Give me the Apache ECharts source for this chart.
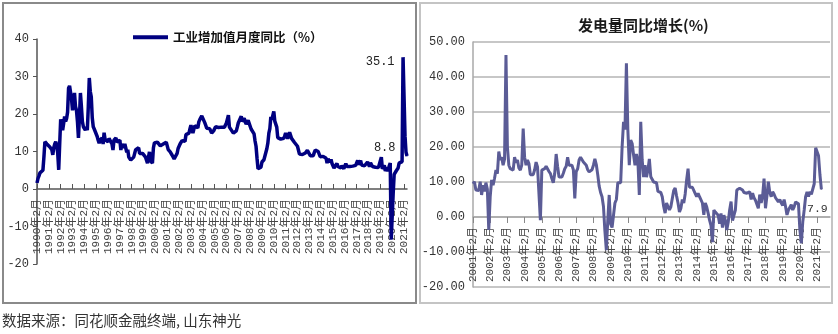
<!DOCTYPE html>
<html><head><meta charset="utf-8">
<script src="https://cdn.jsdelivr.net/npm/echarts@6/dist/echarts.min.js"></script>
<style>html,body{margin:0;padding:0;background:#fff}#c{width:838px;height:334px}</style>
</head><body><div id="c"></div>
<script>
// ---- Left: 工业增加值月度同比 (%), monthly 1990-02 .. 2021-05 ----
const ivaName = '工业增加值月度同比（%）';
const iva1990 = [1.6,2.8,3.5,4.3,3.8,4.6,5.0,8.5,12.6,12.8,12.0];
const iva1991_1995 = [
 11.5,11.8,11.2,11.0,10.5,9.1,11.0,12.0,12.6,11.8,9.5,5.1,
 12.0,18.6,17.0,15.7,17.5,19.3,18.0,18.8,20.5,26.9,27.5,27.7,
 24.0,21.0,23.5,25.6,22.0,21.0,18.0,13.6,19.0,25.6,22.0,18.0,
 16.6,17.0,15.7,16.5,15.7,22.0,29.6,26.0,24.6,19.0,16.6,16.0,
 15.5,15.7,14.0,13.0,12.2,13.0,12.8,13.6,12.0,15.0,13.2,13.5];
const iva1996_2000 = [
 13.0,12.6,13.5,13.0,13.6,12.0,10.4,13.0,13.5,13.6,12.5,13.0,
 12.5,13.0,10.4,12.0,11.5,11.0,12.0,11.5,9.8,10.5,8.5,8.0,
 7.7,8.0,7.7,8.5,9.5,10.5,11.0,10.5,11.0,9.5,10.0,9.8,
 9.5,9.0,9.2,8.5,9.0,6.9,8.5,9.9,7.5,8.0,6.9,11.0,
 12.3,12.5,12.8,12.5,13.0,12.8,11.5,11.2,11.2,12.0,12.5,12.3];
const iva2001_2005 = [
 12.5,11.5,10.5,10.0,9.9,9.9,9.0,8.5,8.0,8.5,8.3,9.5,
 10.8,11.0,12.0,12.5,12.9,12.9,13.0,12.7,14.5,14.2,14.5,14.9,
 16.0,17.0,17.0,14.9,16.0,16.9,17.0,17.1,16.3,17.9,18.5,19.0,
 19.5,19.0,19.1,17.7,17.0,16.2,15.7,15.9,16.1,15.7,14.9,14.8,
 15.5,16.0,16.6,16.5,16.8,16.4,16.0,16.3,16.5,16.1,16.6,16.5];
const iva2006_2010 = [
 16.2,17.6,17.8,19.7,16.5,16.7,15.7,16.1,14.9,14.7,14.9,15.5,
 16.5,17.6,17.4,18.1,19.4,18.0,17.5,18.9,17.9,17.3,17.6,18.3,
 18.0,17.8,16.0,16.5,16.0,14.7,12.8,11.4,8.2,5.4,5.7,5.3,
 5.8,7.2,7.3,7.8,8.0,8.3,10.8,12.3,14.9,16.1,19.2,18.5,
 19.0,20.7,18.1,17.8,16.5,13.7,13.4,13.9,13.3,13.1,13.3,13.5];
const iva2011_2015 = [
 14.1,14.9,14.8,13.4,13.3,15.1,15.2,13.5,13.8,13.2,12.4,12.8,
 12.5,11.4,11.9,9.3,9.6,9.5,9.2,8.9,9.2,9.6,10.1,10.3,
 9.9,9.9,8.9,9.3,9.2,8.9,9.7,10.4,10.2,10.3,10.0,9.7,
 8.6,8.6,8.8,8.7,8.8,9.2,8.2,6.9,8.0,7.7,7.2,7.9,
 6.8,6.8,5.6,5.9,6.1,6.8,6.0,6.1,5.7,5.6,6.2,5.9];
const iva2016_2020 = [
 5.4,5.4,6.8,6.0,6.0,6.2,6.0,6.3,6.1,6.1,6.2,6.0,
 6.3,6.3,7.6,6.5,6.5,7.6,6.4,6.0,6.6,6.2,6.1,6.2,
 7.2,7.2,6.0,7.0,6.8,6.0,6.0,6.1,5.8,5.9,5.4,5.7,
 5.3,5.3,8.5,5.4,5.0,6.3,4.8,4.4,5.8,4.7,6.2,6.9,
 -13.5,-13.5,-1.1,3.9,4.4,4.8,4.8,5.6,6.9,6.9,7.0,7.3];
const iva2021 = [35.1,35.1,14.1,9.8,8.8];

// ---- Right: 发电量同比增长(%), monthly 2001-02 .. 2021-05 ----
const powerTitle = '发电量同比增长(%)';
const pow2001 = [9.5,10.1,7.7,7.8,7.6,10.1,6.3,9.1,7.3,9.8,8.0];
const pow2002_2006 = [
 -3.7,5.8,10.6,9.1,11.0,13.4,12.4,18.7,16.3,17.1,14.8,16.5,
 46.3,20.0,14.8,13.8,13.6,13.4,17.1,15.5,16.3,14.0,13.4,14.8,
 25.3,17.1,14.8,16.3,15.3,12.1,12.5,12.1,13.5,15.7,14.3,14.0,
 -0.9,13.4,13.0,13.8,14.5,14.8,13.0,12.4,11.0,9.8,12.4,18.0,
 14.5,11.4,11.0,11.4,12.5,13.8,14.5,17.1,14.8,15.0,14.8,13.5];
const pow2007_2011 = [
 5.3,13.0,13.8,16.3,17.1,17.1,15.7,15.5,14.8,13.5,12.9,12.4,
 13.5,14.8,16.6,15.0,12.1,8.8,7.0,5.8,3.0,-4.0,-9.5,-1.0,
 6.3,-2.0,-3.0,-2.5,4.0,5.0,9.8,9.5,9.8,20.0,27.2,25.0,
 43.9,25.0,14.8,22.0,21.0,17.7,14.8,18.0,16.0,6.3,27.2,16.3,
 11.4,14.8,11.4,13.4,16.6,11.5,11.4,10.0,9.8,9.8,7.3,7.5];
const pow2012_2016 = [
 7.0,5.8,3.0,1.1,4.0,3.0,2.0,2.9,2.5,7.6,8.3,6.0,
 4.0,1.4,2.5,5.0,4.0,6.6,10.6,13.8,8.5,8.6,8.5,8.0,
 6.7,5.8,6.8,5.8,5.8,4.0,0.6,4.0,2.9,1.1,-0.9,-2.5,
 -7.2,2.0,1.4,1.5,0.5,-1.9,1.0,-3.0,0.5,-0.9,-3.7,-1.5,
 2.0,4.4,-1.0,0.5,2.0,7.7,8.0,8.2,7.9,7.7,7.0,7.2];
const pow2017_2020 = [
 6.8,7.0,7.2,5.0,6.8,5.5,4.8,5.0,2.5,6.4,4.0,6.0,
 11.0,2.5,6.0,10.1,7.0,5.8,7.2,6.5,5.5,6.0,4.3,5.0,
 4.0,3.3,5.0,3.0,0.6,2.0,2.0,3.5,2.0,2.9,4.3,4.0,
 3.8,-3.7,-7.5,-1.4,2.0,5.8,7.2,5.8,7.2,6.5,8.0,9.5];
const pow2021 = [19.8,19.5,17.5,12.0,7.9];

const sourceNote = '数据来源：同花顺金融终端, 山东神光';

function monthCats(y0, m0, y1, m1) {
  const out = [];
  for (let y = y0, m = m0; y < y1 || (y === y1 && m <= m1); ) {
    out.push(y + '年' + m + '月');
    m++; if (m > 12) { m = 1; y++; }
  }
  return out;
}
const ivaCats = monthCats(1990, 2, 2021, 5);
const powCats = monthCats(2001, 2, 2021, 11);

const ivaValues = [].concat(iva1990, iva1991_1995, iva1996_2000, iva2001_2005, iva2006_2010, iva2011_2015, iva2016_2020, iva2021);
const powValues = [].concat(pow2001, pow2002_2006, pow2007_2011, pow2012_2016, pow2017_2020, pow2021);

const monoFont = "'Liberation Mono', 'Noto Sans CJK SC', monospace";
const cjkFont = "'Noto Sans CJK SC', sans-serif";

function labelled(v, label) {
  return { value: v, symbol: 'circle', symbolSize: 1, label: Object.assign({ show: true, fontSize: 12, fontFamily: monoFont, color: '#222', formatter: String(v) }, label) };
}
const ivaPeakIdx = ivaCats.indexOf('2021年2月');
const ivaLastIdx = ivaValues.length - 1;
const ivaData = ivaValues.map((v, i) => {
  if (i === ivaPeakIdx) return labelled(v, { position: 'left', distance: 5, offset: [-4, 4] });
  if (i === ivaLastIdx) return labelled(v, { position: 'left', distance: 5, offset: [-6, -8] });
  return v;
});
const powLastIdx = powValues.length - 1;
const powData = powValues.map((v, i) => i === powLastIdx ? labelled(v, { position: 'bottom', distance: 5, offset: [-4, 8], fontSize: 11.5, color: '#333' }) : v);

const chart = echarts.init(document.getElementById('c'), null, { renderer: 'canvas' });
chart.setOption({
  animation: false,
  backgroundColor: '#fff',
  title: {
    text: powerTitle, left: 573, top: 13,
    textStyle: { fontFamily: cjkFont, fontSize: 15, fontWeight: 'bold', color: '#1a1a1a' }
  },
  legend: {
    data: [ivaName], left: 128, top: 26, icon: 'rect', itemWidth: 35, itemHeight: 4, itemGap: 4,
    textStyle: { fontFamily: cjkFont, fontSize: 12.5, color: '#111', fontWeight: 'bold' }
  },
  grid: [
    { left: 37, right: 431, top: 39, bottom: 70 },
    { left: 473, right: 8, top: 42, bottom: 47 }
  ],
  xAxis: [
    {
      type: 'category', gridIndex: 0, data: ivaCats, boundaryGap: false, position: 'bottom', offset: -75,
      axisLine: { onZero: false, lineStyle: { color: '#555', width: 1.5 } },
      axisTick: { inside: true, length: 5, interval: 11, lineStyle: { color: '#555' } },
      axisLabel: { interval: 11, rotate: 90, margin: 10, fontSize: 11, fontFamily: monoFont, color: '#444' }
    },
    {
      type: 'category', gridIndex: 1, data: powCats, boundaryGap: false, position: 'bottom', offset: -70,
      axisLine: { onZero: false, lineStyle: { color: '#a8a8a8', width: 1.5 } },
      axisTick: { length: 6, interval: 11, lineStyle: { color: '#888' } },
      axisLabel: { interval: 11, rotate: 90, margin: 10, fontSize: 11, fontFamily: monoFont, color: '#444' }
    }
  ],
  yAxis: [
    {
      type: 'value', gridIndex: 0, min: -20, max: 40, interval: 10,
      splitLine: { show: false },
      axisLine: { show: true, lineStyle: { color: '#555', width: 1.5 } },
      axisTick: { show: true, length: 4, lineStyle: { color: '#555' } },
      axisLabel: { margin: 8, fontSize: 12, fontFamily: monoFont, color: '#333' }
    },
    {
      type: 'value', gridIndex: 1, min: -20, max: 50, interval: 10,
      splitLine: { lineStyle: { color: '#b5b5b5', width: 1.5 } },
      axisLine: { show: true, lineStyle: { color: '#a8a8a8', width: 1.5 } },
      axisTick: { show: false },
      axisLabel: { margin: 8, fontSize: 12, fontFamily: monoFont, color: '#333', formatter: v => v.toFixed(2) }
    }
  ],
  series: [
    {
      name: ivaName, type: 'line', xAxisIndex: 0, yAxisIndex: 0, data: ivaData,
      symbol: 'none', showSymbol: true, showAllSymbol: true, clip: false, color: '#000080',
      lineStyle: { color: '#000080', width: 3.5 }, itemStyle: { color: '#000080' }
    },
    {
      name: powerTitle, type: 'line', xAxisIndex: 1, yAxisIndex: 1, data: powData,
      symbol: 'none', showSymbol: true, showAllSymbol: true, clip: false, color: '#5b5c96',
      lineStyle: { color: '#5b5c96', width: 3 }, itemStyle: { color: '#5b5c96' }
    }
  ],
  graphic: [
    { type: 'rect', shape: { x: 3, y: 3, width: 413, height: 300 }, style: { fill: 'none', stroke: '#8a8a8a', lineWidth: 2 }, z: -1 },
    { type: 'rect', shape: { x: 420, y: 3, width: 412, height: 300 }, style: { fill: 'none', stroke: '#c4c4c4', lineWidth: 2 }, z: -1 },
    { type: 'text', left: 2, top: 313, style: { text: sourceNote, fontFamily: cjkFont, fontSize: 14.5, fill: '#333' } }
  ]
});
</script></body></html>
